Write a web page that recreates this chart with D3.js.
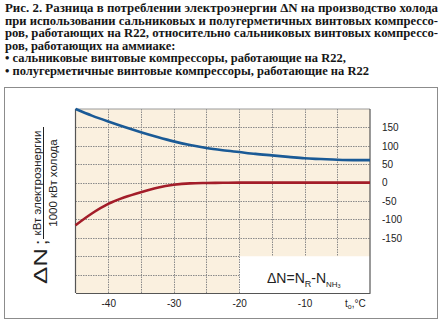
<!DOCTYPE html>
<html>
<head>
<meta charset="utf-8">
<script src="https://cdn.jsdelivr.net/npm/d3@7"></script>
<style>
  html, body { margin: 0; padding: 0; background: #fff; }
  svg { display: block; }
</style>
</head>
<body>
<svg id="chart" width="440" height="325"></svg>
<script>
// Evaporating temperature, °C
const temps = [-45, -42.5, -40, -37.5, -35, -32.5, -30, -27.5, -25, -22.5, -20, -17.5, -15, -12.5, -10, -7.5, -5, -2.5, 0];
// Open screw compressors on R22 minus ammonia
const openScrewR22 = [200, 182, 166, 151, 137, 124, 112, 102, 94, 88, 83, 78, 74, 70, 66, 64, 62, 61, 61];
// Semi-hermetic screw compressors on R22 minus ammonia
const semiHermeticR22 = [-116, -84, -58, -40, -26, -14, -6, -2, -1, -0.5, 0, 0, 0, 0, 0, 0, 0, 0, 0];

const xTicks = [-40, -30, -20, -10];
const yTicks = [150, 100, 50, 0, -50, -100, -150];
const xGrid = [-40, -35, -30, -25, -20, -15, -10, -5];
const yGrid = [150, 100, 50, 0, -50, -100, -150, -200, -250];

const titleLines = [
  "Рис. 2. Разница в потреблении электроэнергии ΔN на производство холода",
  "при использовании сальниковых и полугерметичных винтовых компрессо-",
  "ров, работающих на R22, относительно сальниковых винтовых компрессо-",
  "ров, работающих на аммиаке:",
  "• сальниковые винтовые компрессоры, работающие на R22,",
  "• полугерметичные винтовые компрессоры, работающие на R22"
];
// Justified caption lines are stretched to the full measure
const justifiedWidth = 433;
const justifiedCount = 3;

const svg = d3.select("#chart");
const serif = "'Liberation Serif', 'DejaVu Serif', serif";
const sans = "'Liberation Sans', Arial, sans-serif";

// Caption: size chosen so the last (ragged) line spans 364 px
const caption = svg.append("g")
  .attr("font-family", serif).attr("font-weight", "bold").attr("fill", "#161616");
const probe = caption.append("text").attr("font-size", 12).text(titleLines[5]);
const captionSize = Math.min(13.5, 12 * 364 / probe.node().getComputedTextLength());
probe.remove();
caption.selectAll("text").data(titleLines).join("text")
  .attr("x", 5)
  .attr("y", (d, i) => 12 + i * 12.5)
  .attr("font-size", captionSize)
  .each(function(d, i) {
    if (i < justifiedCount) {
      d3.select(this).attr("textLength", justifiedWidth).attr("lengthAdjust", "spacingAndGlyphs");
    }
  })
  .text(d => d);

// Outer frame
svg.append("rect")
  .attr("x", 4.5).attr("y", 87.5).attr("width", 433).attr("height", 231)
  .attr("fill", "none").attr("stroke", "#8c8c8c").attr("stroke-width", 1);

const plot = { left: 75.5, right: 370, top: 109, bottom: 293 };
const x = d3.scaleLinear().domain([-45, 0]).range([plot.left, plot.right]);
const y = d3.scaleLinear().domain([-300, 200]).range([plot.bottom, plot.top]);

const bg = "#faf0df";
// Plot background with the formula corner left white
svg.append("path")
  .attr("d", `M${x(-45)},${y(200)}H${x(0)}V${y(-200)}H${x(-20)}V${y(-300)}H${x(-45)}Z`)
  .attr("fill", bg);

// Dotted grid
const grid = svg.append("g")
  .attr("stroke", "#8a8a8a").attr("stroke-width", 1).attr("stroke-dasharray", "1.5,1");
grid.selectAll("line.v").data(xGrid).join("line")
  .attr("class", "v")
  .attr("x1", d => Math.round(x(d)) + 0.5).attr("x2", d => Math.round(x(d)) + 0.5)
  .attr("y1", y(200)).attr("y2", d => d > -20 ? y(-200) : y(-300));
grid.selectAll("line.h").data(yGrid).join("line")
  .attr("class", "h")
  .attr("y1", d => Math.round(y(d)) + 0.5).attr("y2", d => Math.round(y(d)) + 0.5)
  .attr("x1", x(-45)).attr("x2", d => d > -200 ? x(0) : x(-20));

// Frame lines of the plot
svg.append("line").attr("x1", x(-45)).attr("x2", x(0)).attr("y1", y(200)).attr("y2", y(200))
  .attr("stroke", "#9a9a9a").attr("stroke-width", 1);
svg.append("line").attr("x1", x(-45)).attr("x2", x(-45)).attr("y1", y(200)).attr("y2", y(-300))
  .attr("stroke", "#555").attr("stroke-width", 1.2);
svg.append("line").attr("x1", x(0)).attr("x2", x(0)).attr("y1", y(200)).attr("y2", y(-300))
  .attr("stroke", "#555").attr("stroke-width", 1.2);

// Curves
const line = d3.line().x(d => x(d[0])).y(d => y(d[1])).curve(d3.curveMonotoneX);
svg.append("path")
  .attr("d", line(temps.map((t, i) => [t, openScrewR22[i]])))
  .attr("fill", "none").attr("stroke", "#1a5a96").attr("stroke-width", 2.6);
svg.append("path")
  .attr("d", line(temps.map((t, i) => [t, semiHermeticR22[i]])))
  .attr("fill", "none").attr("stroke", "#a31d29").attr("stroke-width", 2.6);

// Bottom axis
const xAxis = d3.axisBottom(x).tickValues(xTicks).tickSize(0).tickPadding(7)
  .tickFormat(d => d3.format("d")(d).replace("−", "-"));
const gx = svg.append("g").attr("transform", `translate(0,${plot.bottom})`).call(xAxis);
gx.select(".domain").attr("stroke", "#555").attr("stroke-width", 1.2);
gx.selectAll("text").attr("font-family", sans)
  .attr("font-size", 10).attr("fill", "#222");

// Right value labels
const yAxis = d3.axisRight(y).tickValues(yTicks).tickSize(0).tickPadding(12)
  .tickFormat(d => d3.format("d")(d).replace("−", "-"));
const gy = svg.append("g").attr("transform", `translate(${plot.right},0)`).call(yAxis);
gy.select(".domain").remove();
gy.selectAll("text").attr("font-family", sans)
  .attr("font-size", 10).attr("fill", "#222");

// Axis unit label
const tl = svg.append("text").attr("x", 345).attr("y", 307)
  .attr("font-family", sans).attr("font-size", 10).attr("fill", "#222");
tl.append("tspan").text("t");
tl.append("tspan").attr("font-size", 7).attr("dy", 2).text("o");
tl.append("tspan").attr("dy", -2).text(",°C");

// Formula
const f = svg.append("text").attr("x", 267).attr("y", 283)
  .attr("font-family", sans).attr("font-size", 14).attr("fill", "#222");
f.append("tspan").text("ΔN=N");
f.append("tspan").attr("font-size", 9).attr("dy", 3.5).text("R");
f.append("tspan").attr("dy", -3.5).text("-N");
f.append("tspan").attr("font-size", 8).attr("dy", 3.5).text("NH");
f.append("tspan").attr("font-size", 5.5).attr("dy", 1.5).text("3");

// Vertical axis title: ΔN; followed by the unit fraction
svg.append("text").attr("transform", "translate(47,284) rotate(-90)")
  .attr("font-family", sans).attr("font-size", 19).attr("fill", "#222")
  .attr("textLength", 36).attr("lengthAdjust", "spacingAndGlyphs").text("ΔN");
svg.append("text").attr("transform", "translate(47,245) rotate(-90)")
  .attr("font-family", sans).attr("font-size", 19).attr("fill", "#222").text(";");
svg.append("text").attr("transform", "translate(40.5,183) rotate(-90)")
  .attr("text-anchor", "middle").attr("font-family", sans).attr("font-size", 11.5).attr("fill", "#222")
  .text("кВт  электроэнергии");
svg.append("line").attr("x1", 43.5).attr("x2", 43.5).attr("y1", 127).attr("y2", 239)
  .attr("stroke", "#222").attr("stroke-width", 1);
svg.append("text").attr("transform", "translate(56.5,183) rotate(-90)")
  .attr("text-anchor", "middle").attr("font-family", sans).attr("font-size", 11.5).attr("fill", "#222")
  .text("1000  кВт  холода");
</script>
</body>
</html>
